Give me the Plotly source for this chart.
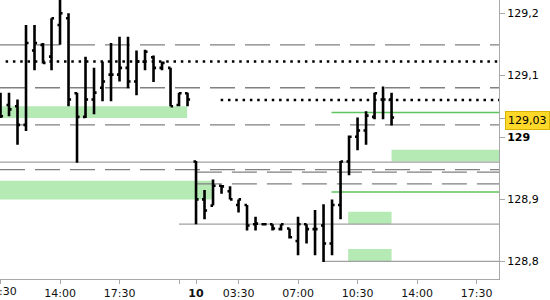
import plotly.graph_objects as go

# ---- data (x = trading hours from day-1 10:30, overnight gap removed) ----
x_day1 = [0.0, 0.5, 1.0, 1.5, 2.0, 2.5, 3.0, 3.5, 4.0, 4.5, 5.0, 5.5, 6.0, 6.5,
          7.0, 7.5, 8.0, 8.5, 9.0, 9.5, 10.0, 10.5, 11.0]
open_day1 = [129.061, 129.052, 129.050, 129.020, 129.140, 129.149, 129.130, 129.181,
             129.192, 129.071, 129.033, 129.061, 129.080, 129.101, 129.101, 129.112,
             129.090, 129.122, 129.129, 129.112, 129.112, 129.052, 129.071]
high_day1 = [129.072, 129.072, 129.061, 129.181, 129.181, 129.152, 129.192, 129.235,
             129.200, 129.072, 129.130, 129.112, 129.122, 129.152, 129.162, 129.162,
             129.140, 129.141, 129.132, 129.122, 129.112, 129.072, 129.072]
low_day1 = [129.031, 129.034, 128.988, 129.010, 129.108, 129.119, 129.108, 129.149,
            129.050, 128.959, 129.031, 129.037, 129.058, 129.058, 129.090, 129.079,
            129.068, 129.108, 129.089, 129.108, 129.050, 129.050, 129.050]
close_day1 = [129.034, 129.045, 129.020, 129.152, 129.152, 129.120, 129.192, 129.200,
              129.061, 129.033, 129.061, 129.072, 129.090, 129.101, 129.112, 129.090,
              129.122, 129.138, 129.112, 129.120, 129.050, 129.071, 129.061]

x_day2 = [11.5, 12.0, 12.5, 13.0, 13.5, 14.0, 14.5, 15.0, 15.5, 16.0, 16.5, 17.0,
          17.5, 18.0, 18.5, 19.0, 19.5, 20.0, 20.5, 21.0, 21.5, 22.0, 22.5, 23.0]
open_day2 = [128.961, 128.900, 128.890, 128.922, 128.913, 128.891, 128.891, 128.860,
             128.860, 128.860, 128.852, 128.853, 128.833, 128.860, 128.852, 128.858,
             128.829, 128.891, 128.961, 129.001, 129.011, 129.033, 129.061, 129.061]
high_day2 = [128.962, 128.915, 128.932, 128.923, 128.921, 128.900, 128.891, 128.872,
             128.861, 128.860, 128.860, 128.853, 128.872, 128.860, 128.883, 128.892,
             128.900, 128.962, 129.003, 129.032, 129.042, 129.072, 129.082, 129.072]
low_day2 = [128.860, 128.868, 128.890, 128.909, 128.900, 128.879, 128.850, 128.850,
            128.858, 128.850, 128.850, 128.837, 128.810, 128.829, 128.810, 128.799,
            128.810, 128.868, 128.939, 128.979, 128.988, 129.029, 129.029, 129.019]
close_day2 = [128.900, 128.882, 128.922, 128.921, 128.900, 128.900, 128.858, 128.861,
              128.860, 128.853, 128.860, 128.839, 128.860, 128.852, 128.852, 128.829,
              128.891, 128.961, 129.001, 129.011, 129.035, 129.071, 129.061, 129.032]

x_ticks = [0.0, 3.5, 7.0, 10.5, 11.5, 14.0, 17.5, 21.0, 24.5, 28.0]
x_labels = ["", "14:00", "17:30", "", "<b>10</b>", "03:30", "07:00", "10:30", "14:00", "17:30"]
first_x_label = "10:30"  # label at x=0, partly off the left edge
y_ticks = [129.2, 129.1, 129.03, 129.0, 128.9, 128.8]
y_labels = ["129,2", "129,1", "", "<b>129</b>", "128,9", "128,8"]
last_price = 129.03
last_label = "129,03"

X_LO, X_HI = -0.03, 29.32
Y_LO, Y_HI = 128.7717, 129.2213

# levels: (value, x_from, x_to)
dashed_levels = [(129.149, X_LO, X_HI), (129.080, X_LO, X_HI), (129.020, X_LO, X_HI),
                 (128.948, X_LO, X_HI), (128.944, 11.55, X_HI), (128.925, 11.55, X_HI)]
dotted_levels = [(129.122, 0.3, X_HI), (129.060, 12.95, X_HI)]
solid_levels = [(128.960, X_LO, X_HI), (128.860, 10.5, X_HI), (128.800, 19.0, X_HI)]
green_levels = [(129.040, 19.47, X_HI), (128.912, 19.47, X_HI)]
# zones: (low, high, x_from, x_to)
zones = [(129.031, 129.050, X_LO, 10.98), (128.961, 128.980, 23.0, X_HI),
         (128.900, 128.930, X_LO, 12.45), (128.860, 128.880, 20.45, 23.0),
         (128.800, 128.820, 20.45, 23.0)]

FONT = "DejaVu Sans"

fig = go.Figure()
fig.add_trace(go.Ohlc(
    x=x_day1 + x_day2,
    open=open_day1 + open_day2, high=high_day1 + high_day2,
    low=low_day1 + low_day2, close=close_day1 + close_day2,
    increasing=dict(line=dict(color="black", width=2.6)),
    decreasing=dict(line=dict(color="black", width=2.6)),
    tickwidth=0.3, showlegend=False, hoverinfo="skip",
))

shapes = []
for lo, hi, xa, xb in zones:
    shapes.append(dict(type="rect", xref="x", yref="y", x0=xa, x1=xb, y0=lo, y1=hi,
                       fillcolor="#b5eab5", line=dict(width=0), layer="below"))
for v, xa, xb in solid_levels:
    shapes.append(dict(type="line", xref="x", yref="y", x0=xa, x1=xb, y0=v, y1=v,
                       line=dict(color="#a0a0a0", width=1.2), layer="below"))
for v, xa, xb in dashed_levels:
    shapes.append(dict(type="line", xref="x", yref="y", x0=xa, x1=xb, y0=v, y1=v,
                       line=dict(color="#808080", width=1.4, dash="25px,10px"), layer="below"))
for v, xa, xb in dotted_levels:
    shapes.append(dict(type="line", xref="x", yref="y", x0=xa, x1=xb, y0=v, y1=v,
                       line=dict(color="black", width=2.5, dash="2.5px,4.8px"), layer="below"))
for v, xa, xb in green_levels:
    shapes.append(dict(type="line", xref="x", yref="y", x0=xa, x1=xb, y0=v, y1=v,
                       line=dict(color="#5ec45e", width=1.4), layer="below"))

fig.update_layout(
    width=550, height=300,
    margin=dict(l=0, r=51, t=0, b=19),
    paper_bgcolor="white", plot_bgcolor="white",
    shapes=shapes,
    font=dict(family=FONT, size=11, color="black"),
    xaxis=dict(range=[X_LO, X_HI], tickvals=x_ticks, ticktext=x_labels,
               showgrid=False, zeroline=False, rangeslider=dict(visible=False),
               showline=True, linecolor="#a8a8a8", linewidth=1,
               ticks="outside", ticklen=4, tickcolor="#a8a8a8",
               tickfont=dict(family=FONT, size=11, color="#111")),
    yaxis=dict(range=[Y_LO, Y_HI], side="right", tickvals=y_ticks, ticktext=y_labels,
               showgrid=False, zeroline=False,
               showline=True, linecolor="#a8a8a8", linewidth=1, mirror=False,
               ticks="outside", ticklen=5, tickcolor="#a8a8a8",
               tickfont=dict(family=FONT, size=11, color="black")),
    annotations=[
        dict(xref="paper", yref="y", x=1, y=last_price, xanchor="left",
             xshift=6, yshift=-2, text=last_label, showarrow=False,
             bgcolor="#ffd82a", bordercolor="#d8b400", borderwidth=1,
             borderpad=2, font=dict(family=FONT, size=11, color="black")),
        dict(xref="x", yref="paper", x=x_ticks[0], y=0, xanchor="center", yanchor="top",
             yshift=-4, text=first_x_label, showarrow=False,
             font=dict(family=FONT, size=11, color="#111")),
    ],
)

fig.write_html("out.html")
